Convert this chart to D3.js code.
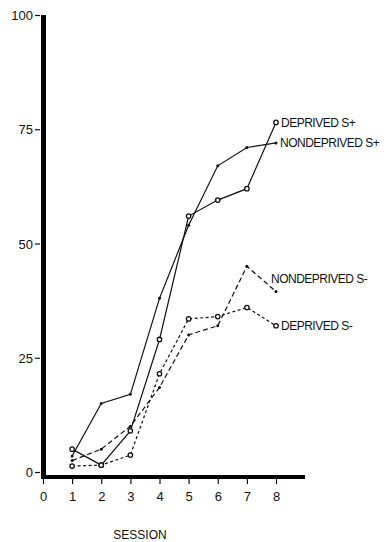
<!DOCTYPE html>
<html><head><meta charset="utf-8">
<script src="https://cdn.jsdelivr.net/npm/d3@7"></script>
<style>body{margin:0;background:#fff}svg{display:block}text{font-family:"Liberation Sans",Arial,sans-serif;fill:#111}</style>
</head><body><svg id="c" width="391" height="542"></svg>
<script>
const sessions = [1,2,3,4,5,6,7,8];
const deprivedSplus = [5,1.5,9,29,56,59.5,62,76.5];
const nondeprivedSplus = [3.5,15,17,38,54,67,71,72];
const nondeprivedSminus = [2.5,5,10,18.5,30,32,45,39.5];
const deprivedSminus = [1.3,1.5,3.7,21.5,33.5,34,36,32];
const xTicks = [0,1,2,3,4,5,6,7,8];
const yTicks = [0,25,50,75,100];
const seriesLabels = ["DEPRIVED S+","NONDEPRIVED S+","NONDEPRIVED S-","DEPRIVED S-"];

const svg = d3.select("#c");
const x = d3.scaleLinear().domain([0,8]).range([43,276]);
const y = d3.scaleLinear().domain([0,100]).range([472,15]);

// axes
const ya = svg.append("g").attr("transform","translate(40,0)")
  .call(d3.axisLeft(y).tickValues(yTicks).tickSize(5).tickFormat(d3.format("d")));
ya.select(".domain").remove();
ya.selectAll("line").attr("stroke","#111").attr("stroke-width",1.2);
ya.selectAll("text").attr("font-size",13).attr("dx",1).attr("dy","0.35em");
svg.append("line").attr("x1",43.5).attr("x2",43.5).attr("y1",y(100)).attr("y2",479)
  .attr("stroke","#000").attr("stroke-width",5);

const xa = svg.append("g").attr("transform","translate(0,479)")
  .call(d3.axisBottom(x).tickValues(xTicks).tickSize(5).tickFormat(d3.format("d")));
xa.select(".domain").remove();
xa.selectAll("line").attr("stroke","#111").attr("stroke-width",1.2);
xa.selectAll("text").attr("font-size",13).attr("dy","1.1em");
svg.append("line").attr("x1",41).attr("x2",305).attr("y1",477).attr("y2",477)
  .attr("stroke","#000").attr("stroke-width",4);

svg.append("text").attr("x",140).attr("y",539).attr("text-anchor","middle")
  .attr("font-size",12).text("SESSION");

const line = d3.line().x((d,i)=>x(sessions[i])).y(d=>y(d));
const series = [
  {vals:deprivedSplus, dash:null, open:true},
  {vals:nondeprivedSplus, dash:null, open:false},
  {vals:nondeprivedSminus, dash:"5,3", open:false},
  {vals:deprivedSminus, dash:"3,2.5", open:true}
];
series.forEach(s=>{
  svg.append("path").attr("d",line(s.vals)).attr("fill","none").attr("stroke","#111")
    .attr("stroke-width",1.2).attr("stroke-dasharray",s.dash);
  svg.selectAll(null).data(s.vals).enter().append("circle")
    .attr("cx",(d,i)=>x(sessions[i])).attr("cy",d=>y(d))
    .attr("r",s.open?2.2:1.5)
    .attr("fill",s.open?"#fff":"#111").attr("stroke","#111").attr("stroke-width",s.open?1.3:0);
});

// labels
const lab = [
  {t:seriesLabels[0], v:deprivedSplus[7], dx:5, dy:0},
  {t:seriesLabels[1], v:nondeprivedSplus[7], dx:4, dy:0},
  {t:seriesLabels[2], v:nondeprivedSminus[7], dx:-5, dy:-13},
  {t:seriesLabels[3], v:deprivedSminus[7], dx:5, dy:0}
];
lab.forEach(l=>{
  svg.append("text").attr("x",x(8)+l.dx).attr("y",y(l.v)+l.dy).attr("dy","0.35em")
    .attr("font-size",12).attr("letter-spacing",-0.5).text(l.t);
});
</script></body></html>
